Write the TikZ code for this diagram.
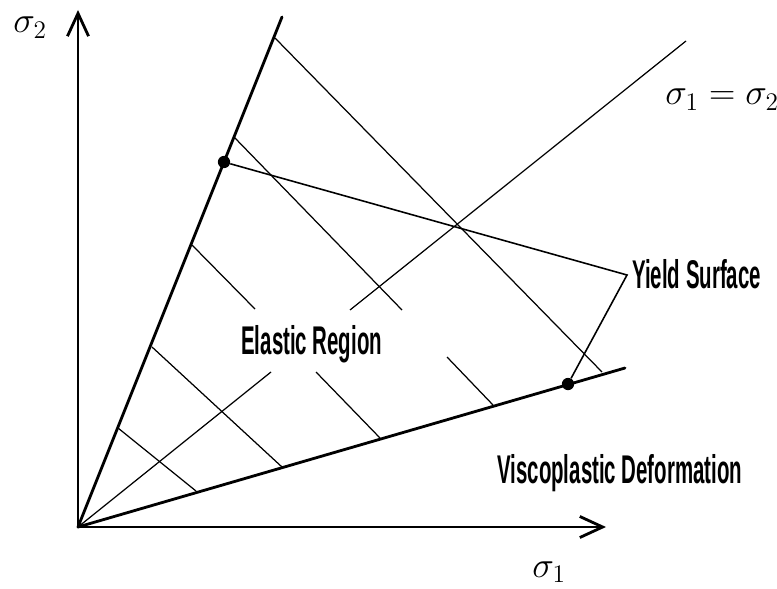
\documentclass[tikz,border=0pt]{standalone}
\usepackage{fontspec}
\newfontfamily\agency[FakeStretch=0.51]{Liberation Sans}
\usetikzlibrary{arrows.meta}

\begin{document}
\begin{tikzpicture}[x=0.02cm, y=-0.02cm, >={Straight Barb[length=13pt,width=12pt]},
    axis/.style={line width=1.6pt},
    bound/.style={line width=1.6pt, line cap=round},
    surf/.style={line width=0.7pt},
    yline/.style={line width=0.9pt},
    sig/.style={font=\fontsize{20}{24}\selectfont, inner sep=0pt, anchor=base west},
    region/.style={font=\agency\bfseries\fontsize{22.8}{26}\selectfont, inner sep=0pt, anchor=base west},
    dot/.style={circle, fill, inner sep=0pt, minimum size=7pt}]
    \useasboundingbox (0,0) rectangle (777,588);

    % axes
    \coordinate (O) at (78,527);
    \coordinate (s2end) at (78,10);
    \coordinate (s1end) at (606,527);
    \draw[axis, <->] (s2end) -- (O) -- (s1end);
    \node[sig] (l2) at (13,33) {$\sigma_2$};
    \node[sig] (l1) at (532,577) {$\sigma_1$};

    % boundary lines
    \draw[bound] (O) -- (282,17);
    \draw[bound] (O) -- (625,368);

    % sigma_1 = sigma_2
    \draw[surf] (O) -- (271,372);
    \draw[surf] (350,310) -- (686,41);
    \node[sig] (leq) at (665,105) {$\sigma_1 = \sigma_2$};

    % yield surfaces
    \foreach \xa/\ya/\xb/\yb in {118/428/196/491, 152/347/282/467,
        192/245/255/309, 316/372/380/438, 234/137/402/310,
        447/357/493/405, 275/38/602/372}
        \draw[surf] (\xa,\ya) -- (\xb,\yb);

    % labels
    \node[region] (el) at (241,354) {Elastic Region};
    \node[region] (yl) at (632,288) {Yield Surface};
    \node[region] (vd) at (497,483) {Viscoplastic Deformation};

    % pointer to yield surface
    \node[dot] (P) at (224,162) {};
    \node[dot] (Q) at (568,384) {};
    \coordinate (ys) at (627,275);
    \draw[yline] (P) -- (ys) -- (Q);
\end{tikzpicture}
\end{document}
